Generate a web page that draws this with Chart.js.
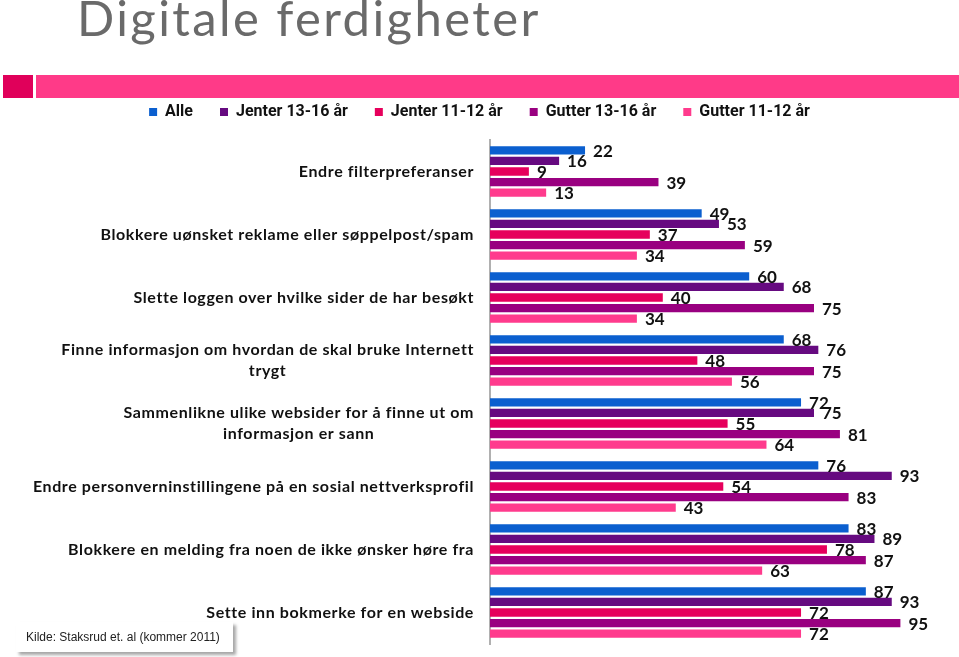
<!DOCTYPE html>
<html>
<head>
<meta charset="utf-8">
<script src="https://cdn.jsdelivr.net/npm/chart.js@4/dist/chart.umd.min.js"></script>
<style>
  html, body { margin: 0; padding: 0; background: #fff; }
  #wrap { position: relative; width: 959px; height: 657px; overflow: hidden; }
  #c { position: absolute; left: 0; top: 0; }
  #title { position: absolute; left: 77px; top: -7px; font-family: Lato, sans-serif; font-weight: 400; font-size: 49px; line-height: 49px; color: #6a6a6a; white-space: nowrap; letter-spacing: 2.4px; }
  #band1 { position: absolute; left: 3px; top: 75px; width: 30px; height: 23px; background: #e0005a; }
  #band2 { position: absolute; left: 36px; top: 75px; width: 923px; height: 23px; background: #ff3a88; }
  #src { position: absolute; left: 16px; top: 622px; width: 217px; height: 30px; background: #fff; box-shadow: 3px 3px 3px rgba(0,0,0,0.35); font-family: "Liberation Sans", Arial, sans-serif; font-size: 12px; color: #222; line-height: 30px; padding-left: 10px; box-sizing: border-box; }
</style>
</head>
<body>
<div id="wrap">
  <canvas id="c" width="959" height="657"></canvas>
  <div id="title">Digitale ferdigheter</div>
  <div id="band1"></div>
  <div id="band2"></div>
  <div id="src">Kilde: Staksrud et. al (kommer 2011)</div>
</div>
<script>
const categories = [
  ["Endre filterpreferanser"],
  ["Blokkere uønsket reklame eller søppelpost/spam"],
  ["Slette loggen over hvilke sider de har besøkt"],
  ["Finne informasjon om hvordan de skal bruke Internett", "trygt"],
  ["Sammenlikne ulike websider for å finne ut om", "informasjon er sann"],
  ["Endre personverninstillingene på en sosial nettverksprofil"],
  ["Blokkere en melding fra noen de ikke ønsker høre fra"],
  ["Sette inn bokmerke for en webside"]
];
const seriesNames = ["Alle", "Jenter 13-16 år", "Jenter 11-12 år", "Gutter 13-16 år", "Gutter 11-12 år"];
const alle       = [22, 49, 60, 68, 72, 76, 83, 87];
const jenter1316 = [16, 53, 68, 76, 75, 93, 89, 93];
const jenter1112 = [9, 37, 40, 48, 55, 54, 78, 72];
const gutter1316 = [39, 59, 75, 75, 81, 83, 87, 95];
const gutter1112 = [13, 34, 34, 56, 64, 43, 63, 72];
const seriesColors = ["#0b5fcf", "#660a80", "#e6005c", "#990080", "#ff3b8d"];

const seriesData = [alle, jenter1316, jenter1112, gutter1316, gutter1112];

const legendFontSize = 16;

const labelsPlugin = {
  id: 'customLabels',
  afterLayout(chart) {
    const lg = chart.legend;
    if (lg && lg.options.display) {
      const pad = lg.options.labels.padding;
      const target = 112 - pad - legendFontSize / 2;
      const dy = target - lg.top;
      lg.top += dy; lg.bottom += dy;
    }
  },
  afterDatasetsDraw(chart) {
    const ctx = chart.ctx;
    ctx.save();
    ctx.font = 'bold 17px Lato, sans-serif';
    ctx.fillStyle = '#111';
    ctx.textAlign = 'left';
    ctx.textBaseline = 'middle';
    chart.data.datasets.forEach((ds, di) => {
      const meta = chart.getDatasetMeta(di);
      meta.data.forEach((el, i) => {
        ctx.fillText(String(ds.data[i]), el.x + 8, el.y + 1);
      });
    });
    const yScale = chart.scales.y;
    ctx.font = 'bold 16px Lato, sans-serif';
    try { ctx.letterSpacing = '0.6px'; } catch (e) {}
    ctx.fillStyle = '#111';
    ctx.textAlign = 'center';
    const rightEdge = yScale.right - 16;
    const lh = 21;
    categories.forEach((lines, i) => {
      const yc = yScale.getPixelForTick(i);
      let maxW = 0;
      lines.forEach(l => { maxW = Math.max(maxW, ctx.measureText(l).width); });
      const cx = rightEdge - maxW / 2;
      const y0 = yc - (lines.length - 1) * lh / 2;
      lines.forEach((l, k) => ctx.fillText(l, cx, y0 + k * lh));
    });
    ctx.restore();
  }
};

new Chart(document.getElementById('c'), {
  type: 'bar',
  data: {
    labels: categories,
    datasets: seriesNames.map((n, i) => ({
      label: n,
      data: seriesData[i],
      backgroundColor: seriesColors[i],
      borderWidth: 0,
      barPercentage: 0.78,
      categoryPercentage: 0.84,
      yAxisID: 'y'
    }))
  },
  options: {
    indexAxis: 'y',
    responsive: false,
    animation: false,
    devicePixelRatio: 1,
    layout: { padding: { left: 0, right: 0, top: 87, bottom: 13 } },
    scales: {
      x: { display: false, min: 0, max: 100 },
      y: {
        display: true,
        position: 'left',
        grid: { display: false, drawTicks: false },
        border: { display: true, color: '#b0b0b0', width: 2 },
        ticks: { display: false },
        afterFit(scale) { scale.width = 490; }
      },
      yRight: {
        type: 'category',
        display: true,
        position: 'right',
        grid: { display: false, drawTicks: false },
        border: { display: false },
        ticks: { display: false },
        afterFit(scale) { scale.width = 37; }
      }
    },
    plugins: {
      legend: {
        display: true,
        position: 'top',
        labels: {
          boxWidth: 8,
          boxHeight: 8,
          padding: 27,
          color: '#111',
          font: { family: 'Roboto, sans-serif', size: legendFontSize, weight: 'bold' }
        }
      },
      tooltip: { enabled: false }
    }
  },
  plugins: [labelsPlugin]
});
</script>
</body>
</html>
